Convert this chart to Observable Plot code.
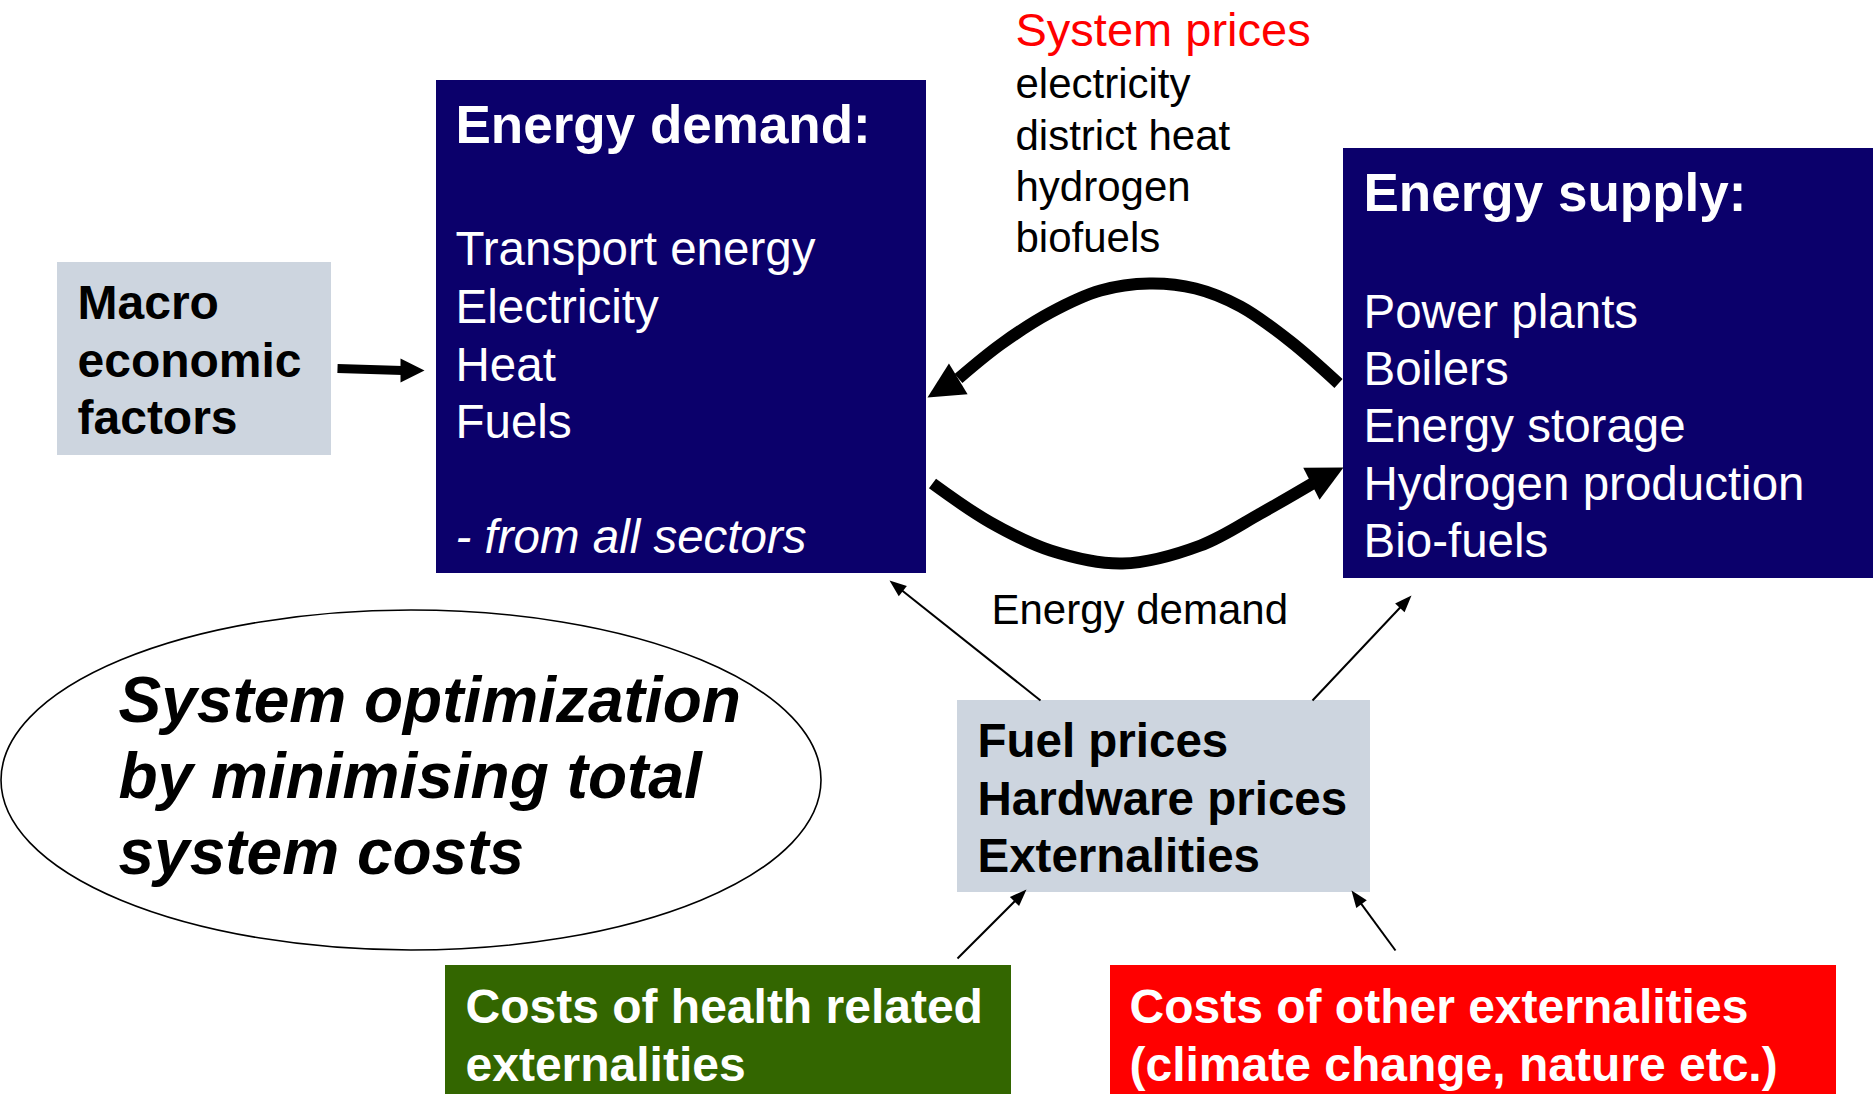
<!DOCTYPE html>
<html><head><meta charset="utf-8">
<script src="https://cdn.jsdelivr.net/npm/d3@7"></script>
<script src="https://cdn.jsdelivr.net/npm/@observablehq/plot@0.6"></script>
<style>html,body{margin:0;padding:0;background:#fff;overflow:hidden}#chart svg{display:block}</style>
</head><body><div id="chart"></div>
<script>
// ---------- content ----------
const macroLines = ["Macro", "economic", "factors"];
const demandTitle = ["Energy demand:"];
const demandLines = ["Transport energy", "Electricity", "Heat", "Fuels"];
const demandNote = ["- from all sectors"];
const supplyTitle = ["Energy supply:"];
const supplyLines = ["Power plants", "Boilers", "Energy storage", "Hydrogen production", "Bio-fuels"];
const pricesTitle = ["System prices"];
const pricesLines = ["electricity", "district heat", "hydrogen", "biofuels"];
const flowLabel = ["Energy demand"];
const optimLines = ["System optimization", "by minimising total", "system costs"];
const inputLines = ["Fuel prices", "Hardware prices", "Externalities"];
const healthLines = ["Costs of health related", "externalities"];
const otherLines = ["Costs of other externalities", "(climate change, nature etc.)"];

// ---------- layout (diagram coordinates, px) ----------
const W = 1873, H = 1094;
const FONT = "'Liberation Sans', Arial, Helvetica, sans-serif";
const NAVY = "#0b006b", GREY = "#cdd5df", GREEN = "#336600", RED = "#ff0000";

const boxIds   = ["macro", "demand", "supply", "inputs", "health", "other"];
const boxLeft  = [57, 436, 1343, 957, 445, 1110];
const boxRight = [331, 926, 1880, 1370, 1011, 1836];
const boxTop   = [262, 80, 148, 700, 965, 965];
const boxBot   = [455, 573, 578, 892, 1100, 1100];
const boxFill  = [GREY, NAVY, NAVY, GREY, GREEN, RED];
const boxes = boxIds.map((id, i) => ({id, x1: boxLeft[i], x2: boxRight[i], y1: boxTop[i], y2: boxBot[i], fill: boxFill[i]}));

const ellipse = [{x1: 1, x2: 821, y1: 610, y2: 950}];

// thick curved flows (centre-line points), head defined by base -> tip
const pricesCurveX = [1338, 1290, 1240, 1195, 1149, 1100, 1050, 1000, 958];
const pricesCurveY = [383, 341, 306, 288, 283, 290, 312, 344, 378];
const demandCurveX = [932, 990, 1050, 1122, 1200, 1260, 1312];
const demandCurveY = [483, 522, 550, 563, 545, 513, 483];
const curves = [
  ...pricesCurveX.map((x, i) => ({id: "prices", x, y: pricesCurveY[i]})),
  ...demandCurveX.map((x, i) => ({id: "demand", x, y: demandCurveY[i]}))
];
const bigHeads = [
  {bx: 957.5, by: 378.5, tx: 927, ty: 397},
  {bx: 1311.5, by: 483, tx: 1343, ty: 467}
];
const macroArrow = [{x1: 337, y1: 368, x2: 402, y2: 370, bx: 400, by: 370, tx: 424, ty: 370}];

// thin arrows start -> tip
const thinArrows = [
  {sx: 1040, sy: 700, tx: 889, ty: 580},
  {sx: 1312, sy: 700, tx: 1411, ty: 595},
  {sx: 957, sy: 958, tx: 1026, ty: 889},
  {sx: 1395, sy: 950, tx: 1351, ty: 890}
];

// ---------- helpers ----------
const rot = (dx, dy) => Math.atan2(dx, -dy) * 180 / Math.PI;
bigHeads.forEach(h => h.r = rot(h.tx - h.bx, h.ty - h.by));
macroArrow.forEach(h => h.r = rot(h.tx - h.bx, h.ty - h.by));
thinArrows.forEach(a => {
  const dx = a.tx - a.sx, dy = a.ty - a.sy, L = Math.hypot(dx, dy);
  a.r = rot(dx, dy);
  a.ex = a.tx - dx / L * 10; a.ey = a.ty - dy / L * 10;
});

const headShape = (halfW) => ({
  draw(ctx, l) { ctx.moveTo(0, -l); ctx.lineTo(halfW, 0); ctx.lineTo(-halfW, 0); ctx.closePath(); }
});

function textRows(texts, x, baselines) {
  return texts.map((t, i) => ({t, x, y: baselines[i]}));
}
function textMark(texts, x, baselines, opts) {
  return Plot.text(textRows(texts, x, baselines), {
    x: "x", y: "y", text: "t", textAnchor: "start", lineAnchor: "bottom",
    fontFamily: FONT, ...opts
  });
}

const plot = Plot.plot({
  width: W, height: H, margin: 0,
  x: {domain: [0, W], range: [0, W], axis: null},
  y: {domain: [0, H], range: [0, H], axis: null},
  color: {type: "identity"},
  style: {background: "white", fontFamily: FONT},
  marks: [
    Plot.rect(ellipse, {x1: "x1", x2: "x2", y1: "y1", y2: "y2", rx: 410, ry: 170, fill: "white", stroke: "black", strokeWidth: 1.6}),
    Plot.rect(boxes, {x1: "x1", x2: "x2", y1: "y1", y2: "y2", fill: "fill"}),
    Plot.line(curves, {x: "x", y: "y", z: "id", curve: "catmull-rom", stroke: "black", strokeWidth: 12, strokeLinecap: "butt"}),
    Plot.vector(bigHeads, {x: "tx", y: "ty", rotate: "r", length: 36, anchor: "end", shape: headShape(18), fill: "black", stroke: "none"}),
    Plot.link(macroArrow, {x1: "x1", y1: "y1", x2: "x2", y2: "y2", stroke: "black", strokeWidth: 9, strokeLinecap: "butt"}),
    Plot.vector(macroArrow, {x: "tx", y: "ty", rotate: "r", length: 24, anchor: "end", shape: headShape(12), fill: "black", stroke: "none"}),
    Plot.link(thinArrows, {x1: "sx", y1: "sy", x2: "ex", y2: "ey", stroke: "black", strokeWidth: 2}),
    Plot.vector(thinArrows, {x: "tx", y: "ty", rotate: "r", length: 17, anchor: "end", shape: headShape(6.5), fill: "black", stroke: "none"}),

    textMark(macroLines, 77, [318, 376, 433], {fontSize: 48, fontWeight: "bold", fill: "black"}),
    textMark(demandTitle, 455, [142], {fontSize: 53, fontWeight: "bold", fill: "white"}),
    textMark(demandLines, 455, [264, 322, 380, 437], {fontSize: 47.5, fill: "white"}),
    textMark(demandNote, 455, [552], {fontSize: 47.5, fontStyle: "italic", fill: "white"}),
    textMark(supplyTitle, 1363, [210], {fontSize: 53, fontWeight: "bold", fill: "white"}),
    textMark(supplyLines, 1363, [327, 384, 441, 499, 556], {fontSize: 47.5, fill: "white"}),
    textMark(pricesTitle, 1015, [45], {fontSize: 47, fill: RED}),
    textMark(pricesLines, 1015, [97.5, 149, 200.5, 251], {fontSize: 42, fill: "black"}),
    textMark(flowLabel, 991, [623], {fontSize: 42, fill: "black"}),
    textMark(optimLines, 118, [721, 797, 873], {fontSize: 64, fontWeight: "bold", fontStyle: "italic", fill: "black"}),
    textMark(inputLines, 977, [756, 814, 871], {fontSize: 47.5, fontWeight: "bold", fill: "black"}),
    textMark(healthLines, 465, [1022, 1080], {fontSize: 48, fontWeight: "bold", fill: "white"}),
    textMark(otherLines, 1129, [1022, 1080], {fontSize: 48, fontWeight: "bold", fill: "white"})
  ]
});
document.getElementById("chart").appendChild(plot);
</script></body></html>
